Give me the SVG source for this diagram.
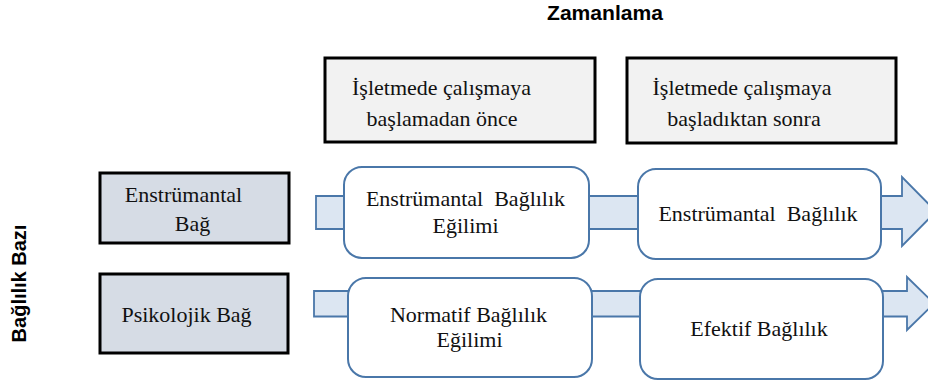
<svg xmlns="http://www.w3.org/2000/svg" width="928" height="383" viewBox="0 0 928 383">
<style>
.hdr{fill:#f2f2f2;stroke:#000;stroke-width:3}
.base{fill:#d6dce5;stroke:#000;stroke-width:3}
.stage{fill:#ffffff;stroke:#4a77a9;stroke-width:2}
.arrow{fill:#dce6f2;stroke:#4a77a9;stroke-width:1.8;stroke-linejoin:miter}
.t{font-family:"Liberation Serif","Times New Roman",serif;font-size:22px;fill:#111;text-anchor:middle}
.lbl{font-family:"Liberation Sans",Arial,sans-serif;font-weight:bold;font-size:20px;fill:#000;text-anchor:middle}
</style>
<rect width="928" height="383" fill="#ffffff"/>
<g id="connectors">
<polygon class="arrow" points="316,196 902,196 902,177 936,211.5 902,246 902,229 316,229"/>
<polygon class="arrow" points="314,291 907,291 907,277 934,303.5 907,330 907,316.5 314,316.5"/>
</g>
<g id="title-zamanlama">
<text class="lbl" x="605" y="20" textLength="116" lengthAdjust="spacingAndGlyphs">Zamanlama</text>
</g>
<g id="title-baglilik-bazi">
<text class="lbl" transform="translate(26,283.5) rotate(-90)" x="0" y="0">Bağlılık Bazı</text>
</g>
<g id="header-once">
<rect class="hdr" x="325" y="58" width="270" height="84"/>
<text class="t" x="441.5" y="95">İşletmede çalışmaya</text>
<text class="t" x="442" y="126">başlamadan önce</text>
</g>
<g id="header-sonra">
<rect class="hdr" x="627" y="58" width="269" height="85"/>
<text class="t" x="742" y="95">İşletmede çalışmaya</text>
<text class="t" x="744" y="126">başladıktan sonra</text>
</g>
<g id="base-enstrumantal">
<rect class="base" x="100" y="173" width="189" height="70"/>
<text class="t" x="183.5" y="202">Enstrümantal</text>
<text class="t" x="192.5" y="231">Bağ</text>
</g>
<g id="base-psikolojik">
<rect class="base" x="100" y="274" width="188" height="79"/>
<text class="t" x="186.5" y="322">Psikolojik Bağ</text>
</g>
<g id="enstrumantal-egilim">
<rect class="stage" x="344" y="167" width="245" height="91" rx="18" ry="18"/>
<text class="t" x="465.5" y="206" xml:space="preserve">Enstrümantal  Bağlılık</text>
<text class="t" x="465.5" y="233">Eğilimi</text>
</g>
<g id="enstrumantal-baglilik">
<rect class="stage" x="638" y="169" width="243" height="90" rx="18" ry="18"/>
<text class="t" x="758" y="221" xml:space="preserve">Enstrümantal  Bağlılık</text>
</g>
<g id="normatif-egilim">
<rect class="stage" x="348" y="278" width="244" height="99" rx="18" ry="18"/>
<text class="t" x="468.5" y="322">Normatif Bağlılık</text>
<text class="t" x="469.5" y="347">Eğilimi</text>
</g>
<g id="efektif-baglilik">
<rect class="stage" x="640" y="279" width="243" height="100" rx="18" ry="18"/>
<text class="t" x="759" y="336">Efektif Bağlılık</text>
</g>
</svg>
